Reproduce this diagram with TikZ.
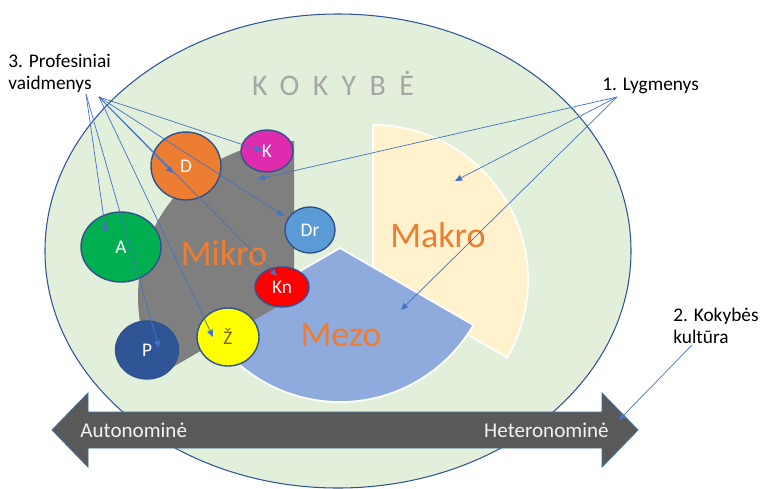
\documentclass[tikz,border=0pt]{standalone}
\usepackage{fontspec}
\setmainfont{Carlito}
\usetikzlibrary{shapes,arrows.meta}
\definecolor{field}{HTML}{E2EFDA}
\definecolor{rim}{HTML}{2F5597}
\definecolor{ring}{HTML}{2F528F}
\definecolor{ptrblue}{HTML}{4472C4}
\definecolor{makrofill}{HTML}{FFF2CC}
\definecolor{mezofill}{HTML}{8FAADC}
\definecolor{mikrofill}{HTML}{7F7F7F}
\definecolor{lvlorange}{HTML}{ED7D31}
\definecolor{kokgray}{HTML}{A6A6A6}
\definecolor{axisfill}{HTML}{595959}
\definecolor{axisrim}{HTML}{41719C}
\definecolor{roleK}{HTML}{DF2BAE}
\definecolor{roleD}{HTML}{ED7D31}
\definecolor{roleDr}{HTML}{5B9BD5}
\definecolor{roleA}{HTML}{00B050}
\definecolor{roleKn}{HTML}{FF0000}
\definecolor{roleZ}{HTML}{FFFF00}
\definecolor{roleP}{HTML}{2F5597}
\definecolor{ztext}{HTML}{7F6000}

\begin{document}
\begin{tikzpicture}[x=0.02cm,y=0.02cm,
  role/.style={ellipse,draw=ring,line width=0.8pt,inner sep=0pt,text=white,font=\fontsize{11}{13}\selectfont},
  lvl/.style={text=lvlorange,anchor=base,inner sep=0pt,font=\fontsize{20.5}{24}\selectfont},
  lbl/.style={align=left,inner sep=0pt,font=\fontsize{11}{12.5}\selectfont},
  ptr/.style={draw=ptrblue,line width=0.4pt,-{Triangle[length=4pt,width=3.4pt]}}]
  \useasboundingbox (0,0) rectangle (761,-488);
  \fill[white] (0,0) rectangle (761,-488);

  % quality field
  \filldraw[fill=field,draw=rim,line width=0.6pt] (338,-251) ellipse [x radius=293,y radius=237];
  \node[text=kokgray,anchor=base,inner sep=0pt,font=\fontsize{17}{20}\selectfont\addfontfeature{LetterSpace=45}] (kok) at (333,-95) {KOKYBĖ};

  % levels
  \filldraw[fill=makrofill,draw=white,line width=1pt] (373,-280) -- ++(-30:155) arc[start angle=-30,end angle=90,radius=155] -- cycle;
  \filldraw[fill=mezofill,draw=white,line width=1pt] (340,-248) -- ++(210:154) arc[start angle=210,end angle=330,radius=154] -- cycle;
  \fill[mikrofill] (294,-297) -- ++(90:156) arc[start angle=90,end angle=210,radius=156] -- cycle;
  \node[lvl] (makro) at (438,-247) {Makro};
  \node[lvl] (mezo) at (341,-346) {Mezo};
  \node[lvl] (mikro) at (224,-265) {Mikro};

  % roles
  \node[role,fill=roleK,minimum width=1.04cm,minimum height=0.84cm] (K) at (267,-151) {K};
  \node[role,fill=roleD,minimum width=1.4cm,minimum height=1.36cm] (D) at (186,-166) {D};
  \node[role,fill=roleDr,minimum width=1cm,minimum height=0.92cm] (Dr) at (310,-230) {Dr};
  \node[role,fill=roleA,minimum width=1.6cm,minimum height=1.4cm] (A) at (121,-247) {A};
  \node[role,fill=roleKn,minimum width=1.08cm,minimum height=0.8cm] (Kn) at (282,-287) {Kn};
  \node[role,fill=roleZ,text=ztext,minimum width=1.24cm,minimum height=1.16cm] (Z) at (228,-337) {Ž};
  \node[role,fill=roleP,minimum width=1.26cm,minimum height=1.16cm] (P) at (147,-350) {P};

  % culture axis
  \filldraw[fill=axisfill,draw=axisrim,line width=0.5pt] (52,-430) -- (88,-393) -- (88,-412) -- (602,-412) -- (602,-393) -- (638,-430) -- (602,-467) -- (602,-448) -- (88,-448) -- (88,-467) -- cycle;
  \node[anchor=base west,inner sep=0pt,text=white!95!black,font=\fontsize{12}{14}\selectfont] (auto) at (80,-437) {Autonominė};
  \node[anchor=base east,inner sep=0pt,text=white!95!black,font=\fontsize{12}{14}\selectfont] (hetero) at (609,-437) {Heteronominė};

  % labels
  \node[lbl,anchor=north west] (prof) at (8,-54) {3. Profesiniai\\vaidmenys};
  \node[lbl,anchor=base west] (lyg) at (602,-90) {1. Lygmenys};
  \node[lbl,anchor=north west] (kult) at (673,-308) {2. Kokybės\\kultūra};

  \coordinate (vd1) at (86,-94);
  \coordinate (vd2) at (99,-97);
  \coordinate (lg) at (617,-97);
  \coordinate (kk) at (692,-345);
  \coordinate (mikro tip) at (258,-179);
  \coordinate (makro tip) at (455,-181);
  \coordinate (mezo tip) at (401,-310);
  \coordinate (axis tip) at (619,-420);

  \draw[ptr] (vd2) -- ([shift={(-5,0)}]K.center);
  \draw[ptr] (vd2) -- ([shift={(-13,-7)}]D.center);
  \draw[ptr] (vd2) -- ([shift={(-26,14)}]Dr.center);
  \draw[ptr] (vd2) -- ([shift={(-5,11)}]Kn.center);
  \draw[ptr] (vd2) -- ([shift={(-15,0)}]Z.center);
  \draw[ptr] (vd1) -- ([shift={(-15,14)}]A.center);
  \draw[ptr] (vd1) -- ([shift={(12,2)}]P.center);

  \draw[ptr] (lg) -- (mikro tip);
  \draw[ptr] (lg) -- (makro tip);
  \draw[ptr] (lg) -- (mezo tip);
  \draw[ptr] (kk) -- (axis tip);
\end{tikzpicture}
\end{document}
